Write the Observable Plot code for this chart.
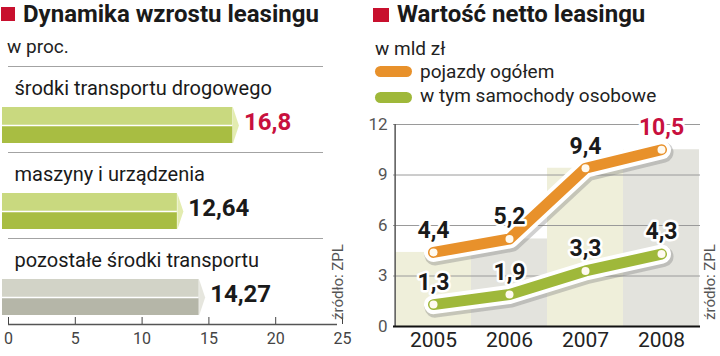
<!DOCTYPE html>
<html><head><meta charset="utf-8">
<script src="https://cdn.jsdelivr.net/npm/d3@7"></script>
<script src="https://cdn.jsdelivr.net/npm/@observablehq/plot@0.6"></script>
<style>
body{margin:0;background:#fff;font-family:Roboto,"Noto Sans",sans-serif;}
#wrap{position:relative;width:720px;height:356px;overflow:hidden;background:#fff;}
.abs{position:absolute;white-space:nowrap;line-height:1;}
.title{font-weight:700;font-size:24px;color:#1a1a1a;}
.sq{position:absolute;background:#c8102e;}
.sub{font-size:19px;color:#222;}
.pill{position:absolute;width:37px;height:11px;border-radius:6px;}
.src{font-size:15px;color:#555;transform:rotate(-90deg);transform-origin:left top;}
#left{position:absolute;left:0;top:60px;}
#right{position:absolute;left:360px;top:110px;}
</style></head><body>
<div id="wrap">
  <div class="sq" style="left:1px;top:7px;width:14px;height:14px"></div>
  <div class="abs title" id="t1" style="left:23px;top:2px">Dynamika wzrostu leasingu</div>
  <div class="abs sub" style="left:7px;top:37px">w proc.</div>
  <div class="sq" style="left:373px;top:8px;width:16px;height:14px"></div>
  <div class="abs title" id="t2" style="left:397px;top:2px">Wartość netto leasingu</div>
  <div class="abs sub" style="left:375px;top:39px">w mld zł</div>
  <div class="pill" style="left:375px;top:66px;background:#e8912b"></div>
  <div class="abs sub" style="left:420px;top:62px">pojazdy ogółem</div>
  <div class="pill" style="left:375px;top:92px;background:#9fb83a"></div>
  <div class="abs sub" style="left:420px;top:86px">w tym samochody osobowe</div>
  <div id="left"></div>
  <div id="right"></div>
  <div class="abs src" style="left:331px;top:320px">źródło: ZPL</div>
  <div class="abs src" style="left:703px;top:320px">źródło: ZPL</div>
</div>
<script>
// ---- data: left panel (growth, %) ----
const categories = ["środki transportu drogowego", "maszyny i urządzenia", "pozostałe środki transportu"];
const growth = [16.8, 12.64, 14.27];
const growthTicks = [0, 5, 10, 15, 20, 25];
// ---- data: right panel (value, bln zł) ----
const years = ["2005", "2006", "2007", "2008"];
const vehiclesTotal = [4.4, 5.2, 9.4, 10.5];
const passengerCars = [1.3, 1.9, 3.3, 4.3];
const valueTicks = [0, 3, 6, 9, 12];

const fmt = v => String(v).replace(".", ",");
const crimson = "#c8103e";
const ORANGE = "#e8912b", GREEN = "#9fb83a";

const leftData = categories.map((c, i) => ({category: c, value: growth[i], kind: i < 2 ? "green" : "gray"}));
const topCol = {green: "#c9d97f", gray: "#d2d3c7"};
const botCol = {green: "#a8bd42", gray: "#b5b6a8"};
const tipCol = {green: "#e3ecb0", gray: "#e6e6de"};

const tipSymbol = {
  draw(ctx, size) {
    const r = Math.sqrt(size / Math.PI);
    ctx.moveTo(0, -r);
    ctx.lineTo(r / 3, 0);
    ctx.lineTo(0, r);
    ctx.closePath();
  }
};

const left = Plot.plot({
  width: 360, height: 296,
  marginLeft: 8, marginRight: 18, marginTop: 6, marginBottom: 32,
  x: {domain: [0, 25], label: null},
  y: {domain: categories, padding: 0, axis: null, label: null},
  color: {type: "identity"},
  style: {fontFamily: "Roboto, sans-serif", background: "transparent", overflow: "visible"},
  marks: [
    Plot.ruleY(categories, {y: d => d, dy: -43, stroke: "#a3a3a3", strokeWidth: 1.2, insetRight: 19}),
    Plot.ruleX(categories, {x: () => 0, y: d => d, insetBottom: 49, stroke: "#333", strokeWidth: 2}),
    Plot.text(categories, {x: () => 0, y: d => d, text: d => d, dx: 6, dy: -21, textAnchor: "start", fontSize: 20, fill: "#1a1a1a"}),
    Plot.barX(leftData, {x: "value", y: "category", insetTop: 41, insetBottom: 27, insetLeft: -6, fill: d => topCol[d.kind]}),
    Plot.barX(leftData, {x: "value", y: "category", insetTop: 59, insetBottom: 9, insetLeft: -6, fill: d => botCol[d.kind]}),
    Plot.ruleY(leftData, {y: "category", x1: () => 0, x2: "value", dy: 16, stroke: "white", strokeWidth: 1.5, insetLeft: -6}),
    Plot.dot(leftData, {x: "value", y: "category", dy: 16, r: 18, symbol: tipSymbol, fill: d => tipCol[d.kind], stroke: "none"}),
    Plot.text(leftData, {x: "value", y: "category", text: d => fmt(d.value), dx: 11, dy: 13, textAnchor: "start",
      fontSize: 24, fontWeight: 700, fill: (d, i) => i === 0 ? crimson : "#1a1a1a"}),
    Plot.ruleY([categories[categories.length - 1]], {y: d => d, dy: 43, stroke: "#555", strokeWidth: 1.5, insetRight: 5}),
    Plot.axisX({ticks: growthTicks, tickSize: -7, tickPadding: 15, fontSize: 16, color: "#444", label: null})
  ]
});
document.getElementById("left").append(left);

const totalSeries = years.map((y, i) => ({year: y, value: vehiclesTotal[i]}));
const carSeries = years.map((y, i) => ({year: y, value: passengerCars[i]}));

function lineMarks(series, color) {
  const o = {x: "year", y: "value", strokeLinecap: "round", strokeLinejoin: "round"};
  return [
    Plot.line(series, {...o, stroke: "#777", strokeOpacity: 0.35, strokeWidth: 21, dx: 1.5, dy: 2.5}),
    Plot.line(series, {...o, stroke: "white", strokeWidth: 19}),
    Plot.line(series, {...o, stroke: color, strokeWidth: 11}),
    Plot.dot(series, {x: "year", y: "value", r: 4, fill: "#fffaf0", stroke: "none"})
  ];
}
function labelMarks(series, lastRed) {
  return Plot.text(series, {x: "year", y: "value", text: d => fmt(d.value), dy: -22, fontSize: 23, fontWeight: 700,
    fill: (d, i) => lastRed && i === series.length - 1 ? crimson : "#1a1a1a", stroke: "white", strokeWidth: 5, paintOrder: "stroke"});
}

const right = Plot.plot({
  width: 360, height: 246,
  marginLeft: 33, marginRight: 20, marginTop: 14, marginBottom: 30,
  x: {domain: years, padding: 0, label: null},
  y: {domain: [0, 12], label: null},
  color: {type: "identity"},
  style: {fontFamily: "Roboto, sans-serif", background: "transparent", overflow: "visible"},
  marks: [
    Plot.barY(totalSeries, {x: "year", y: "value", fill: (d, i) => i % 2 ? "#e3e3dd" : "#efefda"}),
    Plot.ruleY(valueTicks.slice(1), {stroke: "#9a9a9a", strokeWidth: 1}),
    Plot.ruleX([years[0]], {dx: -38.375, stroke: "#555", strokeWidth: 1.5}),
    Plot.ruleY([0], {stroke: "#111", strokeWidth: 2}),
    Plot.axisY({ticks: valueTicks, tickSize: 0, tickPadding: 6, fontSize: 17, color: "#555", label: null}),
    Plot.axisX({tickSize: 0, tickPadding: 6, fontSize: 21, color: "#222", label: null}),
    ...lineMarks(carSeries, GREEN),
    ...lineMarks(totalSeries, ORANGE),
    labelMarks(carSeries, false),
    labelMarks(totalSeries, true)
  ]
});
document.getElementById("right").append(right);
</script>
</body></html>
